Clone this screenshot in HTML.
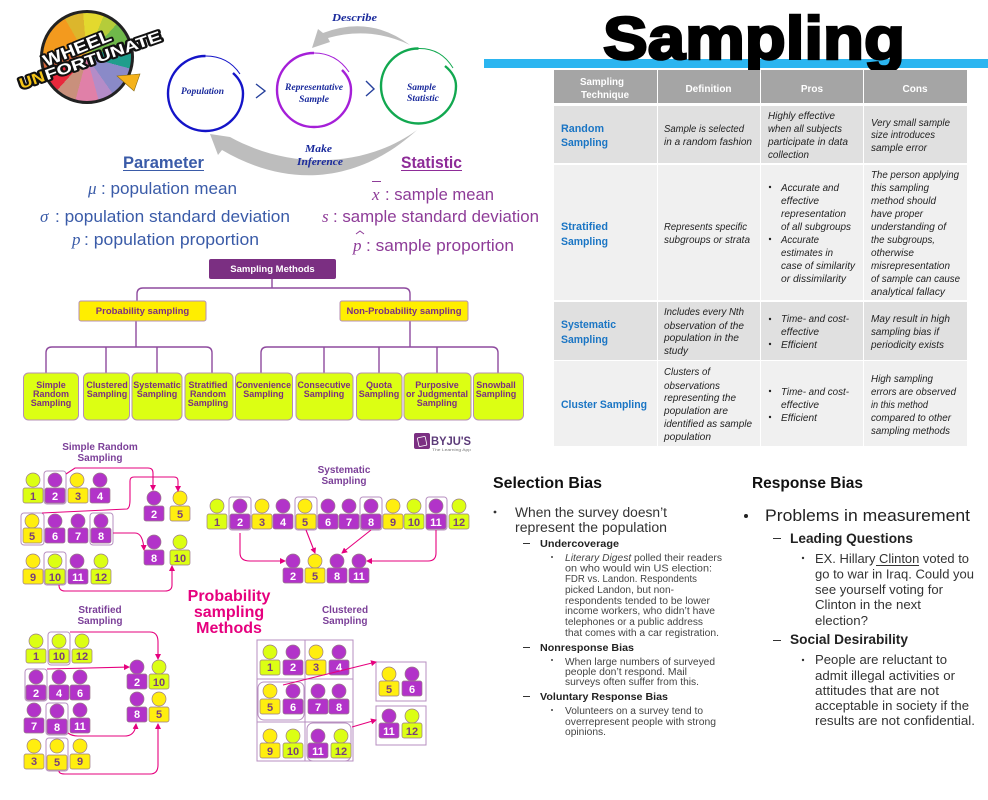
<!DOCTYPE html>
<html><head><meta charset="utf-8"><title>Sampling</title>
<style>
html,body{margin:0;padding:0;background:#fff}
#w{position:relative;width:988px;height:800px;overflow:hidden;background:#fff}
#wheel{position:absolute;left:40px;top:10px;width:94px;height:94px;box-sizing:border-box;border-radius:50%;border:3px solid #222;
background:conic-gradient(from -30deg,#dcb62c 0 25deg,#e3d92e 25deg 52deg,#b5cc3a 52deg 72deg,#6fb84a 72deg 102deg,#1f9e8c 102deg 135deg,#8a8ac8 135deg 175deg,#b48cc8 175deg 195deg,#e080a8 195deg 225deg,#c9907c 225deg 252deg,#e8283c 252deg 280deg,#d8683c 280deg 305deg,#f39a1e 305deg 360deg)}
svg{position:absolute;left:0;top:0}
text{font-family:"Liberation Sans",sans-serif}
.c{fill:#dcff13}.u{fill:#b233c9}.y{fill:#ffee0f}
circle.c,circle.u,circle.y,rect.c,rect.u,rect.y{stroke:#9a7a8a;stroke-width:.7}
.n{font-size:11px;font-weight:bold;text-anchor:middle;fill:#7a3f7a}
.w{font-size:11px;font-weight:bold;text-anchor:middle;fill:#fff}
.t{font-size:10px;font-weight:bold;text-anchor:middle;fill:#7b3f98}
.h{fill:none;stroke:#b78fc0;stroke-width:1}
.a{fill:none;stroke:#e6007e;stroke-width:1.1;marker-end:url(#m)}
.l{fill:none;stroke:#8e4a9e;stroke-width:1.4}
.lf{fill:#dcff13;stroke:#b58fb5;stroke-width:1}
.lt{font-size:9px;font-weight:bold;text-anchor:middle;fill:#7b2f82}
.th{font-size:10px;font-weight:bold;fill:#fff}
.thc{font-size:10px;font-weight:bold;fill:#fff;text-anchor:middle}
.tb{font-size:11px;font-weight:bold;fill:#1a75c4}
.ti{font-size:10.5px;font-style:italic;fill:#222}
.s{font-family:"Liberation Serif",serif;font-style:italic;font-weight:bold;fill:#1a2a9c}
.pb{font-size:16.5px;fill:#3a5ba8}.ps{font-size:16.5px;fill:#8e3c98}
.m{font-family:"Liberation Serif",serif;font-style:italic;font-size:17px}
.b1{font-size:13.5px;fill:#333}.b2{font-size:10.5px;fill:#222;font-weight:bold}.b3{font-size:10px;fill:#444}
.r2{font-size:13.5px;fill:#222;font-weight:bold}.r3{font-size:13px;fill:#333}
</style></head><body><div id="w">
<div id="wheel"></div>
<svg width="988" height="800" viewBox="0 0 988 800" xmlns="http://www.w3.org/2000/svg">
<defs><marker id="m" markerWidth="6" markerHeight="6" refX="5" refY="3" orient="auto" markerUnits="userSpaceOnUse"><path d="M0 0L6 3L0 6z" fill="#e6007e"/></marker></defs>

<!-- logo -->
<g transform="rotate(-22 77 48)" font-weight="bold" stroke-linejoin="round">
<text x="41" y="54" font-size="17" textLength="72" lengthAdjust="spacingAndGlyphs" fill="#fff" stroke="#111" stroke-width="3.500" paint-order="stroke">WHEEL</text>
</g>
<g transform="rotate(-19 90 58)" font-weight="bold" stroke-linejoin="round">
<text x="15" y="65" font-size="15" textLength="26" lengthAdjust="spacingAndGlyphs" fill="#f5c518" stroke="#111" stroke-width="4" paint-order="stroke">UN</text>
<text x="42" y="65" font-size="15" textLength="122" lengthAdjust="spacingAndGlyphs" fill="#fff" stroke="#111" stroke-width="4" paint-order="stroke">FORTUNATE</text>
</g>
<polygon points="117,76 140,74 134,91" fill="#f5b21a" stroke="#8a6a10" stroke-width=".6"/>

<!-- cycle -->
<path d="M410 45Q370 15 323 33L318 29L312 48L330 42L328 38Q370 26 410 45z" fill="#bdbdbd"/>
<path d="M417 130C365 168 290 170 230 137L210 134L218 155L222 150C290 190 360 182 417 130z" fill="#bdbdbd"/>
<g fill="none">
<path d="M233 73Q243 82 243 93.500A37.500 37.500 0 1 1 205.500 56" stroke="#1414c8" stroke-width="2.400"/><path d="M205.500 56Q228 56 240 74" stroke="#1414c8" stroke-width="1"/>
<path d="M342 70Q351 79 351 90A37 37 0 1 1 314 53" stroke="#a51fd8" stroke-width="2.400"/><path d="M314 53Q336 53 349 72" stroke="#a51fd8" stroke-width="1"/>
<path d="M445 66Q456 75 456 86A37.500 37.500 0 1 1 418.500 48.500" stroke="#12a850" stroke-width="2.400"/><path d="M418.500 48.500Q441 48 453 68" stroke="#12a850" stroke-width="1"/>
<path d="M256 84L265 91L256 98M366 81L374 89L366 96" stroke="#26409c" stroke-width="1.400"/>
</g>
<text class="s" x="181" y="94" font-size="9" textLength="43" lengthAdjust="spacingAndGlyphs">Population</text>
<text class="s" x="285" y="90" font-size="9" textLength="58" lengthAdjust="spacingAndGlyphs">Representative</text>
<text class="s" x="299" y="102" font-size="9" textLength="30" lengthAdjust="spacingAndGlyphs">Sample</text>
<text class="s" x="407" y="90" font-size="9" textLength="29" lengthAdjust="spacingAndGlyphs">Sample</text>
<text class="s" x="407" y="101" font-size="9" textLength="32" lengthAdjust="spacingAndGlyphs">Statistic</text>
<text class="s" x="332" y="21" font-size="11" textLength="45" lengthAdjust="spacingAndGlyphs">Describe</text>
<text class="s" x="305" y="152" font-size="11" textLength="27" lengthAdjust="spacingAndGlyphs">Make</text>
<text class="s" x="297" y="165" font-size="11" textLength="46" lengthAdjust="spacingAndGlyphs">Inference</text>

<!-- parameter / statistic -->
<text x="123" y="168" font-size="17" font-weight="bold" fill="#3a5ba8" textLength="81" lengthAdjust="spacingAndGlyphs">Parameter</text>
<rect x="123" y="170" width="81" height="1" fill="#3a5ba8"/>
<text x="401" y="168" font-size="17" font-weight="bold" fill="#8e2c98" textLength="61" lengthAdjust="spacingAndGlyphs">Statistic</text>
<rect x="401" y="170" width="61" height="1" fill="#8e2c98"/>
<text class="m" x="88" y="194" fill="#3a5ba8">μ</text>
<text class="pb" x="101" y="194" textLength="136" lengthAdjust="spacingAndGlyphs">: population mean</text>
<text class="m" x="40" y="222" fill="#3a5ba8">σ</text>
<text class="pb" x="55" y="222" textLength="235" lengthAdjust="spacingAndGlyphs">: population standard deviation</text>
<text class="m" x="72" y="245" fill="#3a5ba8">p</text>
<text class="pb" x="84" y="245" textLength="175" lengthAdjust="spacingAndGlyphs">: population proportion</text>
<text class="m" x="372" y="200" fill="#8e3c98">x</text><rect x="372" y="181" width="9" height="1" fill="#8e3c98"/>
<text class="ps" x="385" y="200" textLength="109" lengthAdjust="spacingAndGlyphs">: sample mean</text>
<text class="m" x="322" y="222" fill="#8e3c98">s</text>
<text class="ps" x="333" y="222" textLength="206" lengthAdjust="spacingAndGlyphs">: sample standard deviation</text>
<text class="m" x="353" y="251" fill="#8e3c98">p</text><path d="M356 234L360 231L364 234" fill="none" stroke="#8e3c98"/>
<text class="ps" x="366" y="251" textLength="148" lengthAdjust="spacingAndGlyphs">: sample proportion</text>

<!-- org chart -->
<path class="l" d="M272 279V288M137 301V294Q137 288 143 288H404Q410 288 410 294V301M136 321V347M46 373V353Q46 347 52 347H206Q212 347 212 353V373M106 347V373M157 347V373M410 321V347M261 373V353Q261 347 267 347H492Q498 347 498 353V373M324 347V373M379 347V373M437 347V373"/>
<rect x="209" y="259" width="127" height="20" rx="2" fill="#7b2f82"/>
<text x="272.500" y="272" font-size="9.500" font-weight="bold" fill="#fff" text-anchor="middle">Sampling Methods</text>
<rect x="79" y="301" width="127" height="20" rx="2" fill="#ffee00" stroke="#b58fb5"/>
<text x="142.500" y="314" font-size="9.500" font-weight="bold" fill="#7b2f82" text-anchor="middle">Probability sampling</text>
<rect x="340" y="301" width="128" height="20" rx="2" fill="#ffee00" stroke="#b58fb5"/>
<text x="404" y="314" font-size="9.500" font-weight="bold" fill="#7b2f82" text-anchor="middle">Non-Probability sampling</text>
<rect class="lf" x="23.500" y="373" width="55" height="47" rx="5"/><rect class="lf" x="83.500" y="373" width="46" height="47" rx="5"/><rect class="lf" x="132" y="373" width="50" height="47" rx="5"/><rect class="lf" x="185" y="373" width="48" height="47" rx="5"/><rect class="lf" x="235.500" y="373" width="57" height="47" rx="5"/><rect class="lf" x="296" y="373" width="57" height="47" rx="5"/><rect class="lf" x="356.500" y="373" width="45.500" height="47" rx="5"/><rect class="lf" x="404" y="373" width="67" height="47" rx="5"/><rect class="lf" x="473.500" y="373" width="50" height="47" rx="5"/>
<text class="lt" x="51" y="388">Simple</text><text class="lt" x="51" y="397">Random</text><text class="lt" x="51" y="406">Sampling</text>
<text class="lt" x="107" y="388">Clustered</text><text class="lt" x="107" y="397">Sampling</text>
<text class="lt" x="157" y="388">Systematic</text><text class="lt" x="157" y="397">Sampling</text>
<text class="lt" x="208" y="388">Stratified</text><text class="lt" x="208" y="397">Random</text><text class="lt" x="208" y="406">Sampling</text>
<text class="lt" x="263.500" y="388" textLength="55" lengthAdjust="spacingAndGlyphs">Convenience</text><text class="lt" x="263.500" y="397">Sampling</text>
<text class="lt" x="324" y="388" textLength="53" lengthAdjust="spacingAndGlyphs">Consecutive</text><text class="lt" x="324" y="397">Sampling</text>
<text class="lt" x="379" y="388">Quota</text><text class="lt" x="379" y="397">Sampling</text>
<text class="lt" x="437" y="388">Purposive</text><text class="lt" x="437" y="397" textLength="62" lengthAdjust="spacingAndGlyphs">or Judgmental</text><text class="lt" x="437" y="406">Sampling</text>
<text class="lt" x="496" y="388">Snowball</text><text class="lt" x="496" y="397">Sampling</text>
<rect x="414" y="433" width="16" height="16" rx="2" fill="#7b2f82"/><rect x="418" y="437" width="8" height="9" rx="1" fill="none" stroke="#fff" stroke-width=".8" transform="rotate(-12 422 441)"/>
<text x="431" y="445" font-size="12" font-weight="bold" fill="#5b3a78" textLength="40" lengthAdjust="spacingAndGlyphs">BYJU'S</text>
<text x="432" y="451" font-size="4" fill="#777" textLength="39" lengthAdjust="spacingAndGlyphs">The Learning App</text>

<!-- section titles -->
<text class="t" x="100" y="450">Simple Random</text><text class="t" x="100" y="461">Sampling</text>
<text class="t" x="344" y="473">Systematic</text><text class="t" x="344" y="484">Sampling</text>
<text class="t" x="100" y="613">Stratified</text><text class="t" x="100" y="624">Sampling</text>
<text class="t" x="345" y="613">Clustered</text><text class="t" x="345" y="624">Sampling</text>
<g font-size="16" font-weight="bold" fill="#e6007e" text-anchor="middle"><text x="229" y="601">Probability</text><text x="229" y="617">sampling</text><text x="229" y="633">Methods</text></g>

<!-- simple random -->
<rect class="h" x="44" y="471" width="22" height="33" rx="3"/><rect class="h" x="21" y="513" width="23" height="32" rx="3"/><rect class="h" x="90" y="513" width="23" height="32" rx="3"/><rect class="h" x="44" y="552" width="22" height="33" rx="3"/>
<circle class="c" cx="33" cy="480" r="7"/><rect class="c" x="23" y="488" width="20" height="15" rx="2"/><text class="n" x="33" y="500">1</text>
<circle class="u" cx="55" cy="480" r="7"/><rect class="u" x="45" y="488" width="20" height="15" rx="2"/><text class="w" x="55" y="500">2</text>
<circle class="y" cx="77" cy="480" r="7"/><rect class="y" x="68" y="488" width="20" height="15" rx="2"/><text class="n" x="78" y="500">3</text>
<circle class="u" cx="100" cy="480" r="7"/><rect class="u" x="90" y="488" width="20" height="15" rx="2"/><text class="w" x="100" y="500">4</text>
<circle class="y" cx="32" cy="521" r="7"/><rect class="y" x="23" y="528" width="19" height="15" rx="2"/><text class="n" x="32" y="540">5</text>
<circle class="u" cx="55" cy="521" r="7"/><rect class="u" x="45" y="528" width="20" height="15" rx="2"/><text class="w" x="55" y="540">6</text>
<circle class="u" cx="78" cy="521" r="7"/><rect class="u" x="68" y="528" width="20" height="15" rx="2"/><text class="w" x="78" y="540">7</text>
<circle class="u" cx="101" cy="521" r="7"/><rect class="u" x="91" y="528" width="20" height="15" rx="2"/><text class="w" x="101" y="540">8</text>
<circle class="y" cx="33" cy="561" r="7"/><rect class="y" x="23" y="569" width="20" height="15" rx="2"/><text class="n" x="33" y="581">9</text>
<circle class="c" cx="55" cy="561" r="7"/><rect class="c" x="45" y="569" width="20" height="15" rx="2"/><text class="n" x="55" y="581">10</text>
<circle class="u" cx="77" cy="561" r="7"/><rect class="u" x="68" y="569" width="20" height="15" rx="2"/><text class="w" x="78" y="581">11</text>
<circle class="c" cx="101" cy="561" r="7"/><rect class="c" x="91" y="569" width="20" height="15" rx="2"/><text class="n" x="101" y="581">12</text>
<circle class="u" cx="154" cy="498" r="7"/><rect class="u" x="144" y="506" width="20" height="15" rx="2"/><text class="w" x="154" y="518">2</text>
<circle class="y" cx="180" cy="498" r="7"/><rect class="y" x="170" y="506" width="20" height="15" rx="2"/><text class="n" x="180" y="518">5</text>
<circle class="u" cx="154" cy="542" r="7"/><rect class="u" x="144" y="550" width="20" height="15" rx="2"/><text class="w" x="154" y="562">8</text>
<circle class="c" cx="180" cy="542" r="7"/><rect class="c" x="170" y="550" width="20" height="15" rx="2"/><text class="n" x="180" y="562">10</text>
<path class="a" d="M66 474L75 468H148Q153 468 153 473V490"/>
<path class="a" d="M42 513L127 509Q130 508 130 500V481Q130 477 134 477H174Q178 477 178 481V491"/>
<path class="a" d="M113 533H135Q143 533 144 550"/>
<path class="a" d="M59 585Q59 591 65 591H165Q172 591 172 585V566"/>

<!-- systematic -->
<rect class="h" x="229" y="497" width="22" height="33" rx="3"/><rect class="h" x="295" y="497" width="22" height="33" rx="3"/><rect class="h" x="360" y="497" width="22" height="33" rx="3"/><rect class="h" x="426" y="497" width="21" height="33" rx="3"/>
<circle class="c" cx="217" cy="506" r="7"/><rect class="c" x="207" y="514" width="20" height="15" rx="2"/><text class="n" x="217" y="526">1</text>
<circle class="u" cx="240" cy="506" r="7"/><rect class="u" x="230" y="514" width="20" height="15" rx="2"/><text class="w" x="240" y="526">2</text>
<circle class="y" cx="262" cy="506" r="7"/><rect class="y" x="252" y="514" width="20" height="15" rx="2"/><text class="n" x="262" y="526">3</text>
<circle class="u" cx="283" cy="506" r="7"/><rect class="u" x="273" y="514" width="20" height="15" rx="2"/><text class="w" x="283" y="526">4</text>
<circle class="y" cx="305" cy="506" r="7"/><rect class="y" x="296" y="514" width="20" height="15" rx="2"/><text class="n" x="305" y="526">5</text>
<circle class="u" cx="328" cy="506" r="7"/><rect class="u" x="318" y="514" width="20" height="15" rx="2"/><text class="w" x="328" y="526">6</text>
<circle class="u" cx="349" cy="506" r="7"/><rect class="u" x="339" y="514" width="20" height="15" rx="2"/><text class="w" x="349" y="526">7</text>
<circle class="u" cx="371" cy="506" r="7"/><rect class="u" x="361" y="514" width="20" height="15" rx="2"/><text class="w" x="371" y="526">8</text>
<circle class="y" cx="393" cy="506" r="7"/><rect class="y" x="383" y="514" width="20" height="15" rx="2"/><text class="n" x="393" y="526">9</text>
<circle class="c" cx="414" cy="506" r="7"/><rect class="c" x="404" y="514" width="20" height="15" rx="2"/><text class="n" x="414" y="526">10</text>
<circle class="u" cx="436" cy="506" r="7"/><rect class="u" x="426" y="514" width="20" height="15" rx="2"/><text class="w" x="436" y="526">11</text>
<circle class="c" cx="459" cy="506" r="7"/><rect class="c" x="449" y="514" width="20" height="15" rx="2"/><text class="n" x="459" y="526">12</text>
<circle class="u" cx="293" cy="561" r="7"/><rect class="u" x="283" y="568" width="20" height="15" rx="2"/><text class="w" x="293" y="580">2</text>
<circle class="y" cx="315" cy="561" r="7"/><rect class="y" x="305" y="568" width="20" height="15" rx="2"/><text class="n" x="315" y="580">5</text>
<circle class="u" cx="337" cy="561" r="7"/><rect class="u" x="327" y="568" width="20" height="15" rx="2"/><text class="w" x="337" y="580">8</text>
<circle class="u" cx="359" cy="561" r="7"/><rect class="u" x="349" y="568" width="20" height="15" rx="2"/><text class="w" x="359" y="580">11</text>
<path class="a" d="M240 533V553Q240 561 250 561H285"/>
<path class="a" d="M306 530L315 553"/>
<path class="a" d="M371 530L342 553"/>
<path class="a" d="M436 530V553Q436 561 428 561H367"/>

<!-- stratified -->
<rect class="h" x="48" y="632" width="22" height="33" rx="3"/><rect class="h" x="25" y="669" width="22" height="32" rx="3"/><rect class="h" x="46" y="703" width="22" height="32" rx="3"/><rect class="h" x="46" y="738" width="22" height="33" rx="3"/>
<circle class="c" cx="36" cy="641" r="7"/><rect class="c" x="26" y="649" width="20" height="14" rx="2"/><text class="n" x="36" y="660">1</text>
<circle class="c" cx="59" cy="641" r="7"/><rect class="c" x="49" y="649" width="20" height="14" rx="2"/><text class="n" x="59" y="660">10</text>
<circle class="c" cx="82" cy="641" r="7"/><rect class="c" x="72" y="649" width="20" height="14" rx="2"/><text class="n" x="82" y="660">12</text>
<circle class="u" cx="36" cy="677" r="7"/><rect class="u" x="26" y="685" width="20" height="15" rx="2"/><text class="w" x="36" y="697">2</text>
<circle class="u" cx="59" cy="677" r="7"/><rect class="u" x="49" y="685" width="20" height="15" rx="2"/><text class="w" x="59" y="697">4</text>
<circle class="u" cx="80" cy="677" r="7"/><rect class="u" x="70" y="685" width="20" height="15" rx="2"/><text class="w" x="80" y="697">6</text>
<circle class="u" cx="34" cy="710" r="7"/><rect class="u" x="24" y="718" width="20" height="15" rx="2"/><text class="w" x="34" y="730">7</text>
<circle class="u" cx="57" cy="711" r="7"/><rect class="u" x="47" y="719" width="20" height="15" rx="2"/><text class="w" x="57" y="731">8</text>
<circle class="u" cx="80" cy="710" r="7"/><rect class="u" x="70" y="718" width="20" height="15" rx="2"/><text class="w" x="80" y="730">11</text>
<circle class="y" cx="34" cy="746" r="7"/><rect class="y" x="24" y="754" width="20" height="15" rx="2"/><text class="n" x="34" y="765">3</text>
<circle class="y" cx="57" cy="746" r="7"/><rect class="y" x="47" y="755" width="20" height="15" rx="2"/><text class="n" x="57" y="766">5</text>
<circle class="y" cx="80" cy="746" r="7"/><rect class="y" x="70" y="754" width="20" height="15" rx="2"/><text class="n" x="80" y="765">9</text>
<circle class="u" cx="137" cy="667" r="7"/><rect class="u" x="127" y="674" width="20" height="15" rx="2"/><text class="w" x="137" y="686">2</text>
<circle class="c" cx="159" cy="667" r="7"/><rect class="c" x="149" y="674" width="20" height="15" rx="2"/><text class="n" x="159" y="686">10</text>
<circle class="u" cx="137" cy="699" r="7"/><rect class="u" x="127" y="707" width="20" height="15" rx="2"/><text class="w" x="137" y="718">8</text>
<circle class="y" cx="159" cy="699" r="7"/><rect class="y" x="149" y="707" width="20" height="15" rx="2"/><text class="n" x="159" y="718">5</text>
<path class="a" d="M70 632H150Q158 632 158 642V659"/>
<path class="a" d="M47 669L129 667"/>
<path class="a" d="M68 733Q72 736 78 736H125Q135 736 136 724"/>
<path class="a" d="M59 771Q59 774 65 774H150Q158 774 158 765V724"/>

<!-- clustered -->
<rect class="h" x="257" y="640" width="96" height="121"/><path class="h" d="M305 640V761M257 679H353M257 722H353"/>
<rect class="h" x="258" y="682" width="46" height="38" rx="6"/><rect class="h" x="307" y="723" width="44" height="38" rx="6"/>
<rect class="h" x="376" y="662" width="50" height="39"/><rect class="h" x="376" y="706" width="50" height="39"/>
<circle class="c" cx="270" cy="652" r="7"/><rect class="c" x="260" y="660" width="20" height="15" rx="2"/><text class="n" x="270" y="671">1</text>
<circle class="u" cx="293" cy="652" r="7"/><rect class="u" x="283" y="660" width="20" height="15" rx="2"/><text class="w" x="293" y="671">2</text>
<circle class="y" cx="316" cy="652" r="7"/><rect class="y" x="306" y="660" width="20" height="15" rx="2"/><text class="n" x="316" y="671">3</text>
<circle class="u" cx="339" cy="652" r="7"/><rect class="u" x="329" y="660" width="20" height="15" rx="2"/><text class="w" x="339" y="671">4</text>
<circle class="y" cx="270" cy="691" r="7"/><rect class="y" x="260" y="699" width="20" height="15" rx="2"/><text class="n" x="270" y="711">5</text>
<circle class="u" cx="293" cy="691" r="7"/><rect class="u" x="283" y="699" width="20" height="15" rx="2"/><text class="w" x="293" y="711">6</text>
<circle class="u" cx="318" cy="691" r="7"/><rect class="u" x="308" y="699" width="20" height="15" rx="2"/><text class="w" x="318" y="711">7</text>
<circle class="u" cx="339" cy="691" r="7"/><rect class="u" x="329" y="699" width="20" height="15" rx="2"/><text class="w" x="339" y="711">8</text>
<circle class="y" cx="270" cy="736" r="7"/><rect class="y" x="260" y="743" width="20" height="15" rx="2"/><text class="n" x="270" y="755">9</text>
<circle class="c" cx="293" cy="736" r="7"/><rect class="c" x="283" y="743" width="20" height="15" rx="2"/><text class="n" x="293" y="755">10</text>
<circle class="u" cx="318" cy="736" r="7"/><rect class="u" x="308" y="743" width="20" height="15" rx="2"/><text class="w" x="318" y="755">11</text>
<circle class="c" cx="341" cy="736" r="7"/><rect class="c" x="331" y="743" width="20" height="15" rx="2"/><text class="n" x="341" y="755">12</text>
<circle class="y" cx="389" cy="674" r="7"/><rect class="y" x="379" y="681" width="20" height="15" rx="2"/><text class="n" x="389" y="693">5</text>
<circle class="u" cx="412" cy="674" r="7"/><rect class="u" x="402" y="681" width="20" height="15" rx="2"/><text class="w" x="412" y="693">6</text>
<circle class="u" cx="389" cy="716" r="7"/><rect class="u" x="379" y="723" width="20" height="15" rx="2"/><text class="w" x="389" y="735">11</text>
<circle class="c" cx="412" cy="716" r="7"/><rect class="c" x="402" y="723" width="20" height="15" rx="2"/><text class="n" x="412" y="735">12</text>
<path class="a" d="M283 685L376 662"/>
<path class="a" d="M352 727L376 720"/>

<!-- blue bar + title -->
<rect x="484" y="59" width="504" height="9" fill="#2bb5f0"/>
<text x="603" y="59" font-size="60" font-weight="bold" fill="#000" stroke="#000" stroke-width="2.500" textLength="302" lengthAdjust="spacingAndGlyphs">Sampling</text>

<!-- table -->
<g fill="#a5a5a5"><rect x="554" y="70" width="103" height="33"/><rect x="658" y="70" width="102" height="33"/><rect x="761" y="70" width="102" height="33"/><rect x="864" y="70" width="103" height="33"/></g>
<g fill="#e0e0e0"><rect x="554" y="106" width="103" height="57"/><rect x="658" y="106" width="102" height="57"/><rect x="761" y="106" width="102" height="57"/><rect x="864" y="106" width="103" height="57"/><rect x="554" y="302" width="103" height="58"/><rect x="658" y="302" width="102" height="58"/><rect x="761" y="302" width="102" height="58"/><rect x="864" y="302" width="103" height="58"/></g>
<g fill="#f0f0f0"><rect x="554" y="165" width="103" height="135"/><rect x="658" y="165" width="102" height="135"/><rect x="761" y="165" width="102" height="135"/><rect x="864" y="165" width="103" height="135"/><rect x="554" y="361" width="103" height="85"/><rect x="658" y="361" width="102" height="85"/><rect x="761" y="361" width="102" height="85"/><rect x="864" y="361" width="103" height="85"/></g>
<text class="th" x="580" y="85" textLength="44" lengthAdjust="spacingAndGlyphs">Sampling</text><text class="th" x="581" y="98" textLength="48" lengthAdjust="spacingAndGlyphs">Technique</text>
<text class="thc" x="708.500" y="92">Definition</text><text class="thc" x="812" y="92">Pros</text><text class="thc" x="915" y="92">Cons</text>

<text class="tb" x="561" y="132" textLength="43" lengthAdjust="spacingAndGlyphs">Random</text><text class="tb" x="561" y="146" textLength="47" lengthAdjust="spacingAndGlyphs">Sampling</text>
<text class="tb" x="561" y="230" textLength="47" lengthAdjust="spacingAndGlyphs">Stratified</text><text class="tb" x="561" y="245" textLength="47" lengthAdjust="spacingAndGlyphs">Sampling</text>
<text class="tb" x="561" y="328" textLength="55" lengthAdjust="spacingAndGlyphs">Systematic</text><text class="tb" x="561" y="343" textLength="47" lengthAdjust="spacingAndGlyphs">Sampling</text>
<text class="tb" x="561" y="408" textLength="86" lengthAdjust="spacingAndGlyphs">Cluster Sampling</text>

<text class="ti" x="664" y="132" textLength="80" lengthAdjust="spacingAndGlyphs">Sample is selected</text><text class="ti" x="664" y="145" textLength="88" lengthAdjust="spacingAndGlyphs">in a random fashion</text>
<text class="ti" x="664" y="230" textLength="83" lengthAdjust="spacingAndGlyphs">Represents specific</text><text class="ti" x="664" y="243" textLength="86" lengthAdjust="spacingAndGlyphs">subgroups or strata</text>
<text class="ti" x="664" y="315" textLength="80" lengthAdjust="spacingAndGlyphs">Includes every Nth</text><text class="ti" x="664" y="329" textLength="80" lengthAdjust="spacingAndGlyphs">observation of the</text><text class="ti" x="664" y="341" textLength="75" lengthAdjust="spacingAndGlyphs">population in the</text><text class="ti" x="664" y="354" textLength="24" lengthAdjust="spacingAndGlyphs">study</text>
<text class="ti" x="664" y="375" textLength="46" lengthAdjust="spacingAndGlyphs">Clusters of</text><text class="ti" x="664" y="389" textLength="56" lengthAdjust="spacingAndGlyphs">observations</text><text class="ti" x="664" y="401" textLength="72" lengthAdjust="spacingAndGlyphs">representing the</text><text class="ti" x="664" y="414" textLength="64" lengthAdjust="spacingAndGlyphs">population are</text><text class="ti" x="664" y="427" textLength="88" lengthAdjust="spacingAndGlyphs">identified as sample</text><text class="ti" x="664" y="440" textLength="47" lengthAdjust="spacingAndGlyphs">population</text>

<text class="ti" x="768" y="119" textLength="67" lengthAdjust="spacingAndGlyphs">Highly effective</text><text class="ti" x="768" y="132" textLength="74" lengthAdjust="spacingAndGlyphs">when all subjects</text><text class="ti" x="768" y="145" textLength="80" lengthAdjust="spacingAndGlyphs">participate in data</text><text class="ti" x="768" y="158" textLength="41" lengthAdjust="spacingAndGlyphs">collection</text>
<g fill="#222"><circle cx="770" cy="187" r="1.200"/><circle cx="770" cy="239" r="1.200"/><circle cx="770" cy="319" r="1.200"/><circle cx="770" cy="344" r="1.200"/><circle cx="770" cy="391" r="1.200"/><circle cx="770" cy="417" r="1.200"/></g>
<text class="ti" x="781" y="191" textLength="58" lengthAdjust="spacingAndGlyphs">Accurate and</text><text class="ti" x="781" y="204" textLength="38" lengthAdjust="spacingAndGlyphs">effective</text><text class="ti" x="781" y="217" textLength="65" lengthAdjust="spacingAndGlyphs">representation</text><text class="ti" x="781" y="230" textLength="70" lengthAdjust="spacingAndGlyphs">of all subgroups</text><text class="ti" x="781" y="243" textLength="38" lengthAdjust="spacingAndGlyphs">Accurate</text><text class="ti" x="781" y="256" textLength="52" lengthAdjust="spacingAndGlyphs">estimates in</text><text class="ti" x="781" y="269" textLength="74" lengthAdjust="spacingAndGlyphs">case of similarity</text><text class="ti" x="781" y="282" textLength="65" lengthAdjust="spacingAndGlyphs">or dissimilarity</text>
<text class="ti" x="781" y="322" textLength="68" lengthAdjust="spacingAndGlyphs">Time- and cost-</text><text class="ti" x="781" y="335" textLength="38" lengthAdjust="spacingAndGlyphs">effective</text><text class="ti" x="781" y="348" textLength="36" lengthAdjust="spacingAndGlyphs">Efficient</text>
<text class="ti" x="781" y="395" textLength="68" lengthAdjust="spacingAndGlyphs">Time- and cost-</text><text class="ti" x="781" y="408" textLength="38" lengthAdjust="spacingAndGlyphs">effective</text><text class="ti" x="781" y="421" textLength="36" lengthAdjust="spacingAndGlyphs">Efficient</text>

<text class="ti" x="871" y="126" textLength="79" lengthAdjust="spacingAndGlyphs">Very small sample</text><text class="ti" x="871" y="138" textLength="64" lengthAdjust="spacingAndGlyphs">size introduces</text><text class="ti" x="871" y="151" textLength="56" lengthAdjust="spacingAndGlyphs">sample error</text>
<text class="ti" x="871" y="178" textLength="88" lengthAdjust="spacingAndGlyphs">The person applying</text><text class="ti" x="871" y="191" textLength="58" lengthAdjust="spacingAndGlyphs">this sampling</text><text class="ti" x="871" y="204" textLength="65" lengthAdjust="spacingAndGlyphs">method should</text><text class="ti" x="871" y="217" textLength="52" lengthAdjust="spacingAndGlyphs">have proper</text><text class="ti" x="871" y="230" textLength="75" lengthAdjust="spacingAndGlyphs">understanding of</text><text class="ti" x="871" y="243" textLength="64" lengthAdjust="spacingAndGlyphs">the subgroups,</text><text class="ti" x="871" y="256" textLength="43" lengthAdjust="spacingAndGlyphs">otherwise</text><text class="ti" x="871" y="269" textLength="79" lengthAdjust="spacingAndGlyphs">misrepresentation</text><text class="ti" x="871" y="282" textLength="89" lengthAdjust="spacingAndGlyphs">of sample can cause</text><text class="ti" x="871" y="295" textLength="74" lengthAdjust="spacingAndGlyphs">analytical fallacy</text>
<text class="ti" x="871" y="322" textLength="79" lengthAdjust="spacingAndGlyphs">May result in high</text><text class="ti" x="871" y="335" textLength="68" lengthAdjust="spacingAndGlyphs">sampling bias if</text><text class="ti" x="871" y="348" textLength="73" lengthAdjust="spacingAndGlyphs">periodicity exists</text>
<text class="ti" x="871" y="382" textLength="62" lengthAdjust="spacingAndGlyphs">High sampling</text><text class="ti" x="871" y="395" textLength="85" lengthAdjust="spacingAndGlyphs">errors are observed</text><text class="ti" x="871" y="408" textLength="57" lengthAdjust="spacingAndGlyphs">in this method</text><text class="ti" x="871" y="421" textLength="80" lengthAdjust="spacingAndGlyphs">compared to other</text><text class="ti" x="871" y="434" textLength="79" lengthAdjust="spacingAndGlyphs">sampling methods</text>

<!-- selection bias -->
<text x="493" y="488" font-size="16" font-weight="bold" fill="#111" textLength="109" lengthAdjust="spacingAndGlyphs">Selection Bias</text>
<circle cx="495" cy="512" r="1.400" fill="#333"/>
<text class="b1" x="515" y="517" textLength="152" lengthAdjust="spacingAndGlyphs">When the survey doesn’t</text><text class="b1" x="515" y="532" textLength="152" lengthAdjust="spacingAndGlyphs">represent the population</text>
<rect x="523" y="543" width="7" height="1" fill="#333"/><rect x="523" y="647" width="7" height="1" fill="#333"/><rect x="523" y="696" width="7" height="1" fill="#333"/>
<text class="b2" x="540" y="547" textLength="79" lengthAdjust="spacingAndGlyphs">Undercoverage</text>
<circle cx="552" cy="557" r="1" fill="#444"/><circle cx="552" cy="660" r="1" fill="#444"/><circle cx="552" cy="710" r="1" fill="#444"/>
<text class="b3" x="565" y="561" textLength="157" lengthAdjust="spacingAndGlyphs"><tspan font-style="italic">Literary Digest</tspan> polled their readers</text>
<text class="b3" x="565" y="571.500" textLength="147" lengthAdjust="spacingAndGlyphs">on who would win US election:</text>
<text class="b3" x="565" y="582" textLength="132" lengthAdjust="spacingAndGlyphs">FDR vs. Landon. Respondents</text>
<text class="b3" x="565" y="593" textLength="109" lengthAdjust="spacingAndGlyphs">picked Landon, but non-</text>
<text class="b3" x="565" y="604" textLength="145" lengthAdjust="spacingAndGlyphs">respondents tended to be lower</text>
<text class="b3" x="565" y="614" textLength="150" lengthAdjust="spacingAndGlyphs">income workers, who didn’t have</text>
<text class="b3" x="565" y="625" textLength="138" lengthAdjust="spacingAndGlyphs">telephones or a public address</text>
<text class="b3" x="565" y="636" textLength="154" lengthAdjust="spacingAndGlyphs">that comes with a car registration.</text>
<text class="b2" x="540" y="651" textLength="94" lengthAdjust="spacingAndGlyphs">Nonresponse Bias</text>
<text class="b3" x="565" y="665" textLength="150" lengthAdjust="spacingAndGlyphs">When large numbers of surveyed</text>
<text class="b3" x="565" y="675" textLength="122" lengthAdjust="spacingAndGlyphs">people don’t respond. Mail</text>
<text class="b3" x="565" y="685" textLength="134" lengthAdjust="spacingAndGlyphs">surveys often suffer from this.</text>
<text class="b2" x="540" y="700" textLength="128" lengthAdjust="spacingAndGlyphs">Voluntary Response Bias</text>
<text class="b3" x="565" y="714" textLength="138" lengthAdjust="spacingAndGlyphs">Volunteers on a survey tend to</text>
<text class="b3" x="565" y="725" textLength="151" lengthAdjust="spacingAndGlyphs">overrepresent people with strong</text>
<text class="b3" x="565" y="735" textLength="41" lengthAdjust="spacingAndGlyphs">opinions.</text>

<!-- response bias -->
<text x="752" y="488" font-size="16" font-weight="bold" fill="#111" textLength="111" lengthAdjust="spacingAndGlyphs">Response Bias</text>
<circle cx="746" cy="516" r="2" fill="#222"/>
<text x="765" y="521" font-size="17" fill="#222" textLength="205" lengthAdjust="spacingAndGlyphs">Problems in measurement</text>
<rect x="773" y="538" width="8" height="1" fill="#333"/><rect x="773" y="640" width="8" height="1" fill="#333"/>
<text class="r2" x="790" y="543" textLength="123" lengthAdjust="spacingAndGlyphs">Leading Questions</text>
<circle cx="803" cy="558" r="1.200" fill="#333"/><circle cx="803" cy="660" r="1.200" fill="#333"/>
<text class="r3" x="815" y="563" textLength="154" lengthAdjust="spacingAndGlyphs">EX. Hillary Clinton voted to</text>
<rect x="876" y="565" width="43" height="1" fill="#333"/>
<text class="r3" x="815" y="578.500" textLength="159" lengthAdjust="spacingAndGlyphs">go to war in Iraq. Could you</text>
<text class="r3" x="815" y="594" textLength="128" lengthAdjust="spacingAndGlyphs">see yourself voting for</text>
<text class="r3" x="815" y="609" textLength="106" lengthAdjust="spacingAndGlyphs">Clinton in the next</text>
<text class="r3" x="815" y="625" textLength="53" lengthAdjust="spacingAndGlyphs">election?</text>
<text class="r2" x="790" y="644" textLength="118" lengthAdjust="spacingAndGlyphs">Social Desirability</text>
<text class="r3" x="815" y="664" textLength="132" lengthAdjust="spacingAndGlyphs">People are reluctant to</text>
<text class="r3" x="815" y="680" textLength="140" lengthAdjust="spacingAndGlyphs">admit illegal activities or</text>
<text class="r3" x="815" y="695" textLength="124" lengthAdjust="spacingAndGlyphs">attitudes that are not</text>
<text class="r3" x="815" y="710" textLength="154" lengthAdjust="spacingAndGlyphs">acceptable in society if the</text>
<text class="r3" x="815" y="725" textLength="160" lengthAdjust="spacingAndGlyphs">results are not confidential.</text>
</svg>
</div></body></html>
